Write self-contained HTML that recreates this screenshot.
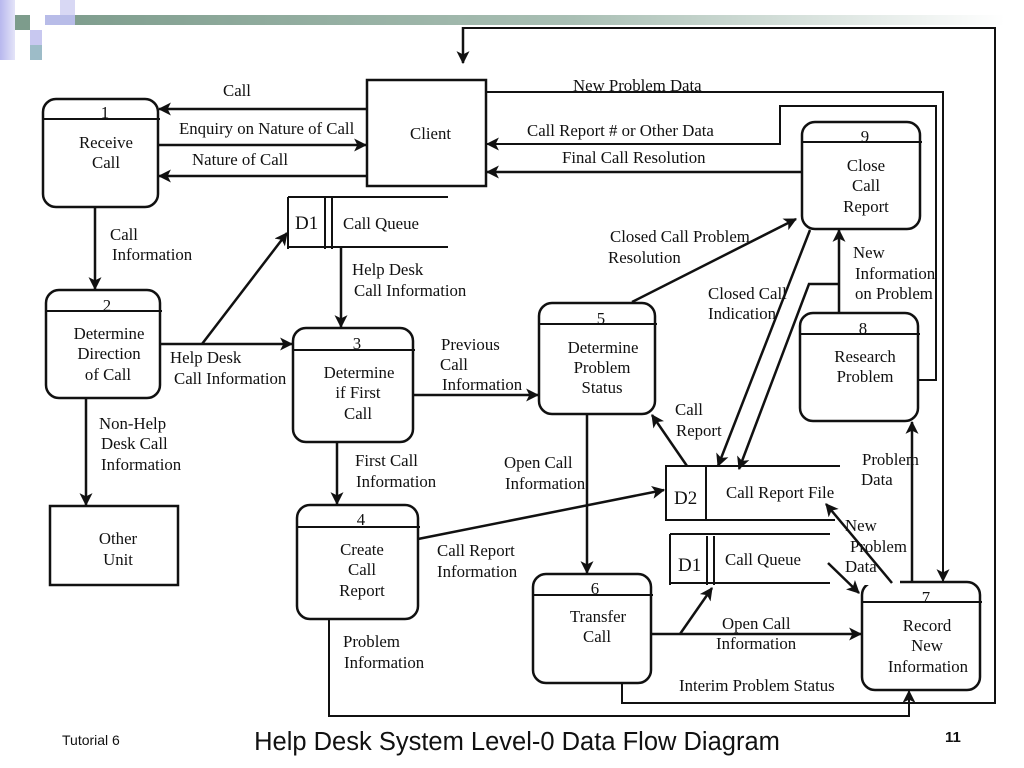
<!DOCTYPE html>
<html><head><meta charset="utf-8"><style>
html,body{margin:0;padding:0;background:#fff;}
svg{display:block;}
text{font-family:"Liberation Serif",serif;font-size:16.8px;fill:#111;}
.a{font-family:"Liberation Sans",sans-serif;}
</style></head><body>
<svg width="1024" height="768" viewBox="0 0 1024 768" xmlns="http://www.w3.org/2000/svg">
<defs>
<linearGradient id="bar" x1="0" x2="1" y1="0" y2="0">
<stop offset="0" stop-color="#7d9c8c"/><stop offset="0.55" stop-color="#a9bfb4"/><stop offset="1" stop-color="#ffffff"/></linearGradient>
<linearGradient id="lav" x1="0" x2="1"><stop offset="0" stop-color="#b8b8ee"/><stop offset="1" stop-color="#e4e4f8"/></linearGradient>
<marker id="m" viewBox="0 0 12 12" refX="11" refY="6" markerWidth="13" markerHeight="13" orient="auto" markerUnits="userSpaceOnUse">
<path d="M0,0 L12,6 L0,12 L3,6 z" fill="#111"/></marker>
</defs>
<rect x="0" y="0" width="15" height="60" fill="url(#lav)"/>
<rect x="15" y="15" width="15" height="15" fill="#7d9c8c"/>
<rect x="45" y="15" width="960" height="10" fill="url(#bar)"/>
<rect x="45" y="15" width="30" height="10" fill="#b8bce8"/>
<rect x="60" y="0" width="15" height="15" fill="#d8d8f4"/>
<rect x="30" y="30" width="12" height="15" fill="#c8c8f0"/>
<rect x="30" y="45" width="12" height="15" fill="#9dbcc8"/>

<g fill="none" stroke="#111" stroke-width="2.5">
<rect x="43" y="99" width="115" height="108" rx="13"/>
<rect x="802" y="122" width="118" height="107" rx="13"/>
<rect x="46" y="290" width="114" height="108" rx="13"/>
<rect x="293" y="328" width="120" height="114" rx="13"/>
<rect x="539" y="303" width="116" height="111" rx="13"/>
<rect x="800" y="313" width="118" height="108" rx="13"/>
<rect x="297" y="505" width="121" height="114" rx="13"/>
<rect x="533" y="574" width="118" height="109" rx="13"/>
<rect x="862" y="582" width="118" height="108" rx="13"/>
<rect x="367" y="80" width="119" height="106"/>
<rect x="50" y="506" width="128" height="79"/>
</g>
<g stroke="#111" stroke-width="2">
<line x1="43" y1="119" x2="160" y2="119"/>
<line x1="802" y1="142" x2="922" y2="142"/>
<line x1="46" y1="311" x2="162" y2="311"/>
<line x1="293" y1="350" x2="415" y2="350"/>
<line x1="539" y1="324" x2="657" y2="324"/>
<line x1="800" y1="334" x2="920" y2="334"/>
<line x1="297" y1="527" x2="420" y2="527"/>
<line x1="533" y1="595" x2="653" y2="595"/>
<line x1="862" y1="602" x2="982" y2="602"/>
<line x1="288" y1="197" x2="448" y2="197"/><line x1="288" y1="247" x2="448" y2="247"/>
<line x1="288" y1="197" x2="288" y2="249"/><line x1="325" y1="197" x2="325" y2="249"/><line x1="332" y1="197" x2="332" y2="249"/>
<line x1="665" y1="466" x2="840" y2="466"/><line x1="665" y1="520" x2="835" y2="520"/>
<line x1="666" y1="466" x2="666" y2="521"/><line x1="706" y1="467" x2="706" y2="521"/>
<line x1="670" y1="534" x2="830" y2="534"/><line x1="670" y1="583" x2="830" y2="583"/>
<line x1="670" y1="534" x2="670" y2="585"/><line x1="707" y1="536" x2="707" y2="585"/><line x1="714" y1="536" x2="714" y2="585"/>
</g>
<rect x="864" y="575" width="36" height="10" fill="#fff"/>

<g fill="none" stroke="#111" stroke-width="2.5" marker-end="url(#m)">
<line x1="367" y1="109" x2="159" y2="109"/>
<line x1="158" y1="145" x2="366" y2="145"/>
<line x1="367" y1="176" x2="159" y2="176"/>
<line x1="463" y1="27" x2="463" y2="63"/>
<polyline points="486,92 943,92 943,581" stroke-width="2"/>
<polyline points="918,380 936,380 936,106 780,106 780,144 487,144" stroke-width="2"/>
<line x1="802" y1="172" x2="487" y2="172"/>
<line x1="95" y1="207" x2="95" y2="289"/>
<line x1="86" y1="398" x2="86" y2="505"/>
<line x1="160" y1="344" x2="292" y2="344"/>
<line x1="202" y1="344" x2="287" y2="233"/>
<line x1="341" y1="247" x2="341" y2="327"/>
<line x1="413" y1="395" x2="538" y2="395"/>
<line x1="337" y1="442" x2="337" y2="504"/>
<line x1="418" y1="539" x2="664" y2="490"/>
<line x1="587" y1="414" x2="587" y2="573"/>
<line x1="632" y1="302" x2="796" y2="219"/>
<line x1="687" y1="466" x2="652" y2="415"/>
<line x1="810" y1="230" x2="718" y2="466"/>
<polyline points="839,284 809,284 739,469"/>
<line x1="839" y1="313" x2="839" y2="230"/>
<line x1="912" y1="582" x2="912" y2="422"/>
<line x1="892" y1="583" x2="826" y2="504"/>
<line x1="828" y1="563" x2="859" y2="593"/>
<line x1="651" y1="634" x2="861" y2="634"/>
<line x1="680" y1="634" x2="712" y2="588"/>
<polyline points="329,619 329,716 909,716 909,691" stroke-width="2"/>
</g>
<polyline points="463,28 995,28 995,703 622,703 622,683" fill="none" stroke="#111" stroke-width="2"/>

<text x="223" y="96">Call</text>
<text x="179" y="134">Enquiry on Nature of Call</text>
<text x="192" y="165">Nature of Call</text>
<text x="410" y="139">Client</text>
<text x="573" y="91">New Problem Data</text>
<text x="527" y="136">Call Report # or Other Data</text>
<text x="562" y="163">Final Call Resolution</text>
<g text-anchor="middle">
<text x="105" y="118">1</text><text x="106" y="148">Receive</text><text x="106" y="168">Call</text>
<text x="865" y="142">9</text><text x="866" y="171">Close</text><text x="866" y="191">Call</text><text x="866" y="212">Report</text>
<text x="107" y="311">2</text><text x="109" y="339">Determine</text><text x="109" y="359">Direction</text><text x="108" y="380">of Call</text>
<text x="357" y="349">3</text><text x="359" y="378">Determine</text><text x="358" y="398">if First</text><text x="358" y="419">Call</text>
<text x="601" y="324">5</text><text x="603" y="353">Determine</text><text x="602" y="373">Problem</text><text x="602" y="393">Status</text>
<text x="863" y="334">8</text><text x="865" y="362">Research</text><text x="865" y="382">Problem</text>
<text x="118" y="544">Other</text><text x="118" y="565">Unit</text>
<text x="361" y="525">4</text><text x="362" y="555">Create</text><text x="362" y="575">Call</text><text x="362" y="596">Report</text>
<text x="595" y="594">6</text><text x="598" y="622">Transfer</text><text x="597" y="642">Call</text>
<text x="926" y="603">7</text><text x="927" y="631">Record</text><text x="927" y="651">New</text><text x="928" y="672">Information</text>
</g>
<text x="295" y="229" style="font-size:19px">D1</text><text x="343" y="229">Call Queue</text>
<text x="674" y="504" style="font-size:19px">D2</text><text x="726" y="498">Call Report File</text>
<text x="678" y="571" style="font-size:19px">D1</text><text x="725" y="565">Call Queue</text>
<text x="110" y="240">Call</text><text x="112" y="260">Information</text>
<text x="352" y="275">Help Desk</text><text x="354" y="296">Call Information</text>
<text x="170" y="363">Help Desk</text><text x="174" y="384">Call Information</text>
<text x="441" y="350">Previous</text><text x="440" y="370">Call</text><text x="442" y="390">Information</text>
<text x="99" y="429">Non-Help</text><text x="101" y="449">Desk Call</text><text x="101" y="470">Information</text>
<text x="355" y="466">First Call</text><text x="356" y="487">Information</text>
<text x="504" y="468">Open Call</text><text x="505" y="489">Information</text>
<text x="610" y="242">Closed Call Problem</text><text x="608" y="263">Resolution</text>
<text x="708" y="299">Closed Call</text><text x="708" y="319">Indication</text>
<text x="853" y="258">New</text><text x="855" y="279">Information</text><text x="855" y="299">on Problem</text>
<text x="675" y="415">Call</text><text x="676" y="436">Report</text>
<text x="862" y="465">Problem</text><text x="861" y="485">Data</text>
<text x="845" y="531">New</text><text x="850" y="552">Problem</text><text x="845" y="572">Data</text>
<text x="437" y="556">Call Report</text><text x="437" y="577">Information</text>
<text x="722" y="629">Open Call</text><text x="716" y="649">Information</text>
<text x="343" y="647">Problem</text><text x="344" y="668">Information</text>
<text x="679" y="691">Interim Problem Status</text>
<text class="a" x="62" y="745" style="font-size:14px">Tutorial 6</text>
<text class="a" x="517" y="750" text-anchor="middle" style="font-size:25.5px">Help Desk System Level-0 Data Flow Diagram</text>
<text class="a" x="945" y="742" style="font-size:15px;font-weight:bold">11</text>
</svg>
</body></html>
